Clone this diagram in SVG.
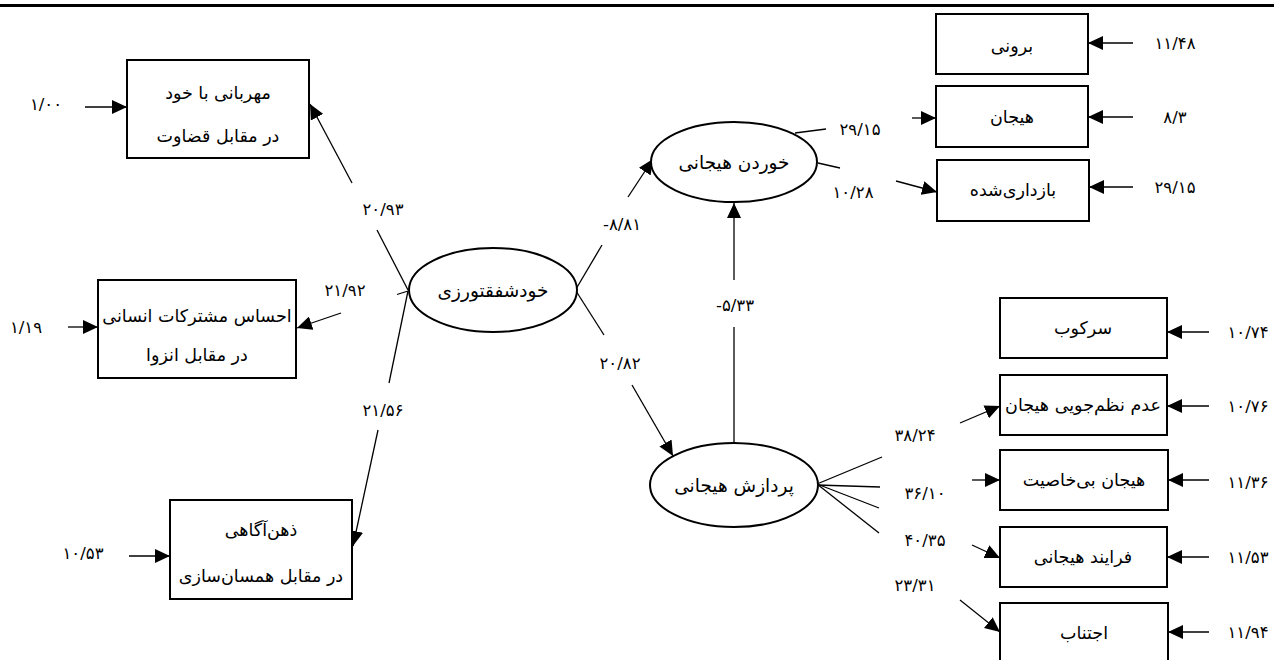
<svg xmlns="http://www.w3.org/2000/svg" width="1274" height="660" viewBox="0 0 1274 660">
<defs>
<marker id="ah" viewBox="0 0 15 14" refX="15" refY="7" markerWidth="15" markerHeight="14" orient="auto" markerUnits="userSpaceOnUse">
<path d="M0,0 L15,7 L0,14 z" fill="#000"/>
</marker>
</defs>
<style>
.box{fill:#fff;stroke:#000;stroke-width:2}
.ell{fill:#fff;stroke:#000;stroke-width:2}
.t{font-family:"DejaVu Sans","Noto Sans",sans-serif;font-size:17.5px;fill:#000;text-anchor:middle;dominant-baseline:central}
.e{font-size:18.5px}
.n{font-family:"DejaVu Sans","Noto Sans",sans-serif;font-size:16.5px;fill:#000;text-anchor:middle;dominant-baseline:central}
.c line{stroke:#000;stroke-width:1.3}
.c line.a{marker-end:url(#ah)}
</style>
<rect width="1274" height="660" fill="#fff"/>
<line x1="0" y1="5.5" x2="1274" y2="5.5" stroke="#000" stroke-width="3"/>

<g id="connectors" class="c">
<line class="a" x1="85" y1="107" x2="127" y2="107"/>
<line class="a" x1="68" y1="327" x2="98" y2="327"/>
<line class="a" x1="129" y1="556" x2="170" y2="556"/>
<line x1="408" y1="290" x2="377" y2="230"/>
<line class="a" x1="352" y1="183" x2="310" y2="104"/>
<line x1="408" y1="291" x2="397" y2="294.5"/>
<line class="a" x1="341" y1="313" x2="297" y2="328"/>
<line x1="408" y1="291" x2="389" y2="383"/>
<line class="a" x1="378" y1="430" x2="353" y2="546"/>
<line x1="576" y1="289" x2="602" y2="245"/>
<line class="a" x1="628" y1="197" x2="653" y2="159"/>
<line x1="576" y1="291" x2="604" y2="335"/>
<line class="a" x1="632" y1="385" x2="673" y2="456"/>
<line x1="734" y1="443" x2="734" y2="327"/>
<line class="a" x1="734" y1="280" x2="734" y2="203"/>
<line x1="795" y1="133" x2="826" y2="129"/>
<line class="a" x1="912" y1="118" x2="936" y2="118"/>
<line x1="818" y1="163" x2="840" y2="168"/>
<line class="a" x1="896" y1="181" x2="937" y2="192"/>
<line class="a" x1="1133" y1="43" x2="1088" y2="43"/>
<line class="a" x1="1133" y1="117" x2="1088" y2="117"/>
<line class="a" x1="1133" y1="187" x2="1089" y2="187"/>
<line class="a" x1="1209" y1="332" x2="1167" y2="332"/>
<line class="a" x1="1209" y1="406" x2="1167" y2="406"/>
<line class="a" x1="1209" y1="480" x2="1168" y2="480"/>
<line class="a" x1="1209" y1="557" x2="1167" y2="557"/>
<line class="a" x1="1209" y1="632" x2="1168" y2="632"/>
<line x1="817" y1="484" x2="882" y2="457"/>
<line x1="817" y1="485" x2="880" y2="487"/>
<line x1="817" y1="484" x2="879" y2="508"/>
<line x1="817" y1="484" x2="879" y2="533"/>
<line class="a" x1="960" y1="423" x2="1000" y2="406"/>
<line class="a" x1="972" y1="480" x2="1000" y2="480"/>
<line class="a" x1="972" y1="545" x2="1000" y2="558"/>
<line class="a" x1="960" y1="600" x2="1000" y2="632"/>
</g>

<g id="labels">
<text class="n" x="46" y="104">۱/۰۰</text>
<text class="n" x="26" y="327">۱/۱۹</text>
<text class="n" x="83" y="553">۱۰/۵۳</text>
<text class="n" x="383" y="209">۲۰/۹۳</text>
<text class="n" x="345" y="290">۲۱/۹۲</text>
<text class="n" x="383" y="410">۲۱/۵۶</text>
<text class="n" x="622" y="224">-۸/۸۱</text>
<text class="n" x="620" y="363">۲۰/۸۲</text>
<text class="n" x="735" y="305">-۵/۳۳</text>
<text class="n" x="860" y="129">۲۹/۱۵</text>
<text class="n" x="853" y="192">۱۰/۲۸</text>
<text class="n" x="1175" y="43">۱۱/۴۸</text>
<text class="n" x="1175" y="117">۸/۳</text>
<text class="n" x="1175" y="187">۲۹/۱۵</text>
<text class="n" x="1248" y="332">۱۰/۷۴</text>
<text class="n" x="1248" y="406">۱۰/۷۶</text>
<text class="n" x="1248" y="482">۱۱/۳۶</text>
<text class="n" x="1248" y="557">۱۱/۵۳</text>
<text class="n" x="1248" y="632">۱۱/۹۴</text>
<text class="n" x="915" y="435">۳۸/۲۴</text>
<text class="n" x="925" y="493">۳۶/۱۰</text>
<text class="n" x="925" y="540">۴۰/۳۵</text>
<text class="n" x="915" y="585">۲۳/۳۱</text>
</g>

<g id="node-kindness">
<rect class="box" x="127" y="60" width="182" height="98"/>
<text class="t" x="218" y="93">مهربانی با خود</text>
<text class="t" x="218" y="136">در مقابل قضاوت</text>
</g>
<g id="node-humanity">
<rect class="box" x="98" y="280" width="198" height="98"/>
<text class="t" x="197" y="316">احساس مشترکات انسانی</text>
<text class="t" x="197" y="355">در مقابل انزوا</text>
</g>
<g id="node-mindfulness">
<rect class="box" x="170" y="500" width="182" height="99"/>
<text class="t" x="261" y="530">ذهن‌آگاهی</text>
<text class="t" x="261" y="576">در مقابل همسان‌سازی</text>
</g>
<g id="node-selfcompassion">
<ellipse class="ell" cx="493" cy="290" rx="84" ry="42"/>
<text class="t e" x="493" y="290">خودشفقتورزی</text>
</g>
<g id="node-emoeating">
<ellipse class="ell" cx="734" cy="162" rx="83" ry="40"/>
<text class="t e" x="734" y="162">خوردن هیجانی</text>
</g>
<g id="node-emoproc">
<ellipse class="ell" cx="734" cy="485" rx="84" ry="42"/>
<text class="t e" x="734" y="485">پردازش هیجانی</text>
</g>
<g id="node-external">
<rect class="box" x="936" y="14" width="152" height="60"/>
<text class="t" x="1012" y="46">برونی</text>
</g>
<g id="node-emotion">
<rect class="box" x="936" y="86" width="152" height="61"/>
<text class="t" x="1012" y="117">هیجان</text>
</g>
<g id="node-restrained">
<rect class="box" x="937" y="160" width="152" height="61"/>
<text class="t" x="1013" y="190">بازداری‌شده</text>
</g>
<g id="node-suppression">
<rect class="box" x="1000" y="298" width="167" height="60"/>
<text class="t" x="1083" y="328">سرکوب</text>
</g>
<g id="node-dysregulation">
<rect class="box" x="1000" y="375" width="167" height="60"/>
<text class="t" x="1083" y="405">عدم نظم‌جویی هیجان</text>
</g>
<g id="node-useless">
<rect class="box" x="1000" y="450" width="168" height="60"/>
<text class="t" x="1084" y="480">هیجان بی‌خاصیت</text>
</g>
<g id="node-process">
<rect class="box" x="1000" y="527" width="167" height="60"/>
<text class="t" x="1083" y="557">فرایند هیجانی</text>
</g>
<g id="node-avoidance">
<rect class="box" x="1000" y="603" width="168" height="62"/>
<text class="t" x="1084" y="633">اجتناب</text>
</g>
</svg>
